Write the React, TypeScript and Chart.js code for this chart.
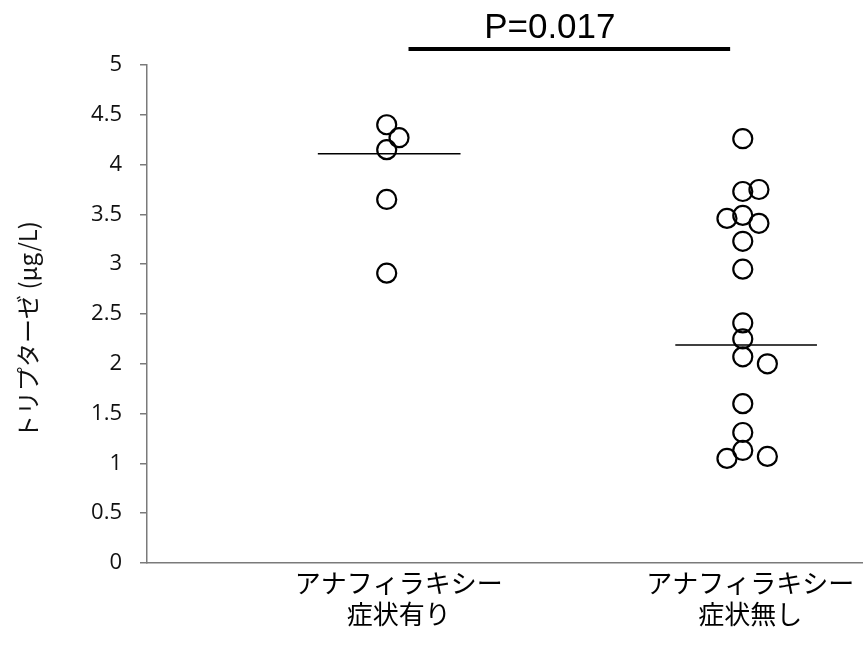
import React, { useEffect, useRef } from "react";
import { Chart, registerables } from "chart.js";

Chart.register(...registerables);

// ---- data ----
const categoryPositions = [1, 2];
const categoryLabels = [
  ["アナフィラキシー", "症状有り"],
  ["アナフィラキシー", "症状無し"],
];

const group1X = [0.966, 1.001, 0.966, 0.966, 0.966];
const group1Y = [4.4, 4.27, 4.15, 3.65, 2.91];

const group2X = [1.979, 1.979, 2.025, 1.979, 1.934, 2.025, 1.979, 1.979, 1.979, 1.979, 1.979, 2.049, 1.979, 1.979, 1.979, 1.934, 2.049];
const group2Y = [4.26, 3.73, 3.75, 3.49, 3.46, 3.41, 3.23, 2.95, 2.41, 2.25, 2.07, 2.0, 1.6, 1.31, 1.13, 1.05, 1.07];

const median1X = [0.77, 1.176];
const median1Y = [4.11, 4.11];
const median2X = [1.787, 2.19];
const median2Y = [2.19, 2.19];

const sigBarX = [1.028, 1.943];
const sigBarY = 5.16;
const sigText = "P=0.017";
const sigTextX = 1.43;
const sigTextY = 5.27;

const yTitle = "トリプターゼ (μg/L)";
const yMin = 0;
const yMax = 5;
const yStep = 0.5;
const xMin = 0.284;
const xMax = 2.321;

const toPoints = (xs: number[], ys: number[]) => xs.map((x, i) => ({ x, y: ys[i] }));

const annotPlugin = {
  id: "annotPlugin",
  afterDraw(chart: any) {
    const { ctx, chartArea } = chart;
    const xs = chart.scales.x;
    const ys = chart.scales.y;
    const x0 = xs.getPixelForValue(sigBarX[0]);
    const x1 = xs.getPixelForValue(sigBarX[1]);
    const yb = ys.getPixelForValue(sigBarY);
    ctx.save();
    ctx.strokeStyle = "#000";
    ctx.lineWidth = 4;
    ctx.beginPath();
    ctx.moveTo(x0, yb);
    ctx.lineTo(x1, yb);
    ctx.stroke();
    ctx.fillStyle = "#000";
    ctx.font = '35px "Liberation Sans", Arial, sans-serif';
    ctx.textAlign = "center";
    ctx.textBaseline = "alphabetic";
    ctx.fillText(sigText, xs.getPixelForValue(sigTextX), ys.getPixelForValue(sigTextY));
    // y axis title
    ctx.translate(28, (chartArea.top + chartArea.bottom) / 2 + 16);
    ctx.rotate(-Math.PI / 2);
    ctx.font = '24px "Noto Sans CJK JP", sans-serif';
    ctx.fillStyle = "#111";
    ctx.textAlign = "center";
    ctx.textBaseline = "middle";
    ctx.fillText(yTitle, 0, 0);
    ctx.restore();
  },
};

export default function App() {
  const ref = useRef<HTMLCanvasElement | null>(null);
  useEffect(() => {
    if (!ref.current) return;
    const pointStyle = {
      type: "scatter" as const,
      showLine: false,
      pointRadius: 9.5,
      pointHoverRadius: 9.5,
      pointBorderWidth: 2.2,
      pointBorderColor: "#000",
      pointBackgroundColor: "rgba(0,0,0,0)",
    };
    const lineStyle = {
      type: "line" as const,
      showLine: true,
      borderColor: "#000",
      borderWidth: 1.5,
      pointRadius: 0,
      fill: false,
    };
    const chart = new Chart(ref.current, {
      type: "scatter",
      data: {
        datasets: [
          { ...lineStyle, data: toPoints(median1X, median1Y) },
          { ...lineStyle, data: toPoints(median2X, median2Y) },
          { ...pointStyle, data: toPoints(group1X, group1Y) },
          { ...pointStyle, data: toPoints(group2X, group2Y) },
        ],
      } as any,
      options: {
        animation: false,
        responsive: false,
        maintainAspectRatio: false,
        layout: { autoPadding: false, padding: { top: 65, right: 0, left: 0, bottom: 0 } },
        plugins: {
          legend: { display: false },
          tooltip: { enabled: false },
        },
        scales: {
          x: {
            type: "linear",
            min: xMin,
            max: xMax,
            afterBuildTicks: (scale: any) => {
              scale.ticks = categoryPositions.map((v) => ({ value: v }));
            },
            afterFit: (scale: any) => {
              scale.height = 90;
              scale.paddingLeft = 0;
              scale.paddingRight = 0;
            },
            grid: { display: false },
            border: { display: true, color: "#7a7a7a", width: 1.5 },
            ticks: {
              autoSkip: false,
              maxRotation: 0,
              minRotation: 0,
              padding: -3,
              color: "#000",
              font: { family: '"Noto Sans CJK JP", sans-serif', size: 26, lineHeight: 1.17 },
              callback: (_v: any, i: number) => categoryLabels[i],
            },
          },
          y: {
            type: "linear",
            min: yMin,
            max: yMax,
            afterFit: (scale: any) => {
              scale.width = 147;
            },
            grid: { drawOnChartArea: false, drawTicks: true, tickLength: 7, color: "#7a7a7a", lineWidth: 1.5 },
            border: { display: true, color: "#7a7a7a", width: 1.5 },
            ticks: {
              stepSize: yStep,
              padding: 18,
              color: "#111",
              font: { family: '"Open Sans", sans-serif', size: 22 },
              callback: (v: any) => String(Math.round(Number(v) * 10) / 10),
            },
          },
        },
      } as any,
      plugins: [annotPlugin],
    });
    return () => chart.destroy();
  }, []);
  return (
    <div style={{ position: "absolute", left: 0, top: 0, width: 863, height: 653, background: "#fff" }}>
      <canvas ref={ref} width={863} height={653} style={{ width: 863, height: 653, display: "block" }} />
    </div>
  );
}
